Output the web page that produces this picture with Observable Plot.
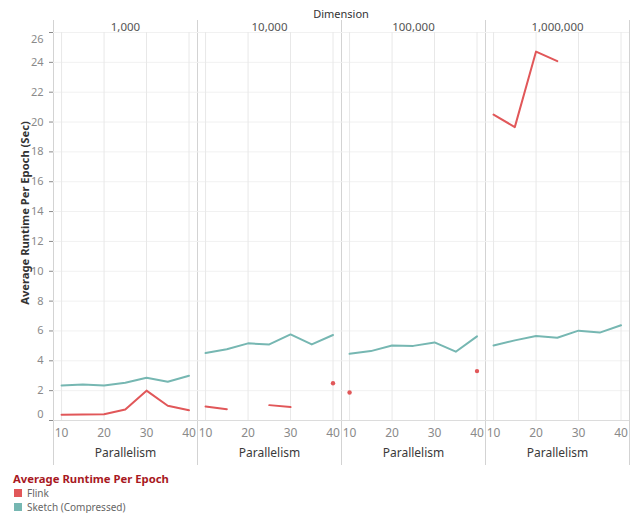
<!DOCTYPE html>
<html>
<head>
<meta charset="utf-8">
<script src="https://cdn.jsdelivr.net/npm/d3@7"></script>
<script src="https://cdn.jsdelivr.net/npm/@observablehq/plot@0.6"></script>
<style>
  body { margin: 0; background: #fff; font-family: "Noto Sans", sans-serif; }
  #wrap { position: relative; width: 635px; height: 513px; overflow: hidden; }
  #chart svg { display: block; }
  #legend { position: absolute; left: 13px; top: 471px; }
  .lg-title { font-weight: bold; font-size: 11.3px; color: #a8191f; line-height: 15px; }
  .lg-item { display: flex; align-items: center; font-size: 10px; color: #666; line-height: 14px; height: 14px; }
  .lg-sw { width: 8px; height: 8px; margin-left: 1px; margin-right: 5px; }
</style>
</head>
<body>
<div id="wrap">
  <div id="chart"></div>
  <div id="legend"></div>
</div>
<script>
// Facet columns (Dimension) and the shared x positions (Parallelism)
const dimensions = ["1,000", "10,000", "100,000", "1,000,000"];
const parallelism = [10, 15, 20, 25, 30, 35, 40];

const seriesNames = ["Flink", "Sketch (Compressed)"];
const seriesColors = ["#e15759", "#76b7b2"];

// Average runtime per epoch (sec); null = no measurement
const flink1k   = [0.38, 0.40, 0.42, 0.74, 2.00, 0.99, 0.69];
const flink10k  = [0.94, 0.76, null, 1.03, 0.90, null, 2.50];
const flink100k = [1.88, null, null, null, null, null, 3.31];
const flink1m   = [20.50, 19.66, 24.72, 24.08, null, null, null];

const sketch1k   = [2.35, 2.42, 2.35, 2.53, 2.87, 2.60, 3.00];
const sketch10k  = [4.52, 4.77, 5.17, 5.10, 5.77, 5.10, 5.73];
const sketch100k = [4.47, 4.65, 5.03, 5.00, 5.23, 4.61, 5.64];
const sketch1m   = [5.03, 5.37, 5.66, 5.55, 6.02, 5.89, 6.38];

const yTicks = d3.range(0, 27, 2);
const xTicks = [10, 20, 30, 40];

const flinkByDim = [flink1k, flink10k, flink100k, flink1m];
const sketchByDim = [sketch1k, sketch10k, sketch100k, sketch1m];

// Long-format table; points with no defined neighbours are drawn as dots
const rows = [];
dimensions.forEach((dimension, i) => {
  [[seriesNames[0], flinkByDim[i]], [seriesNames[1], sketchByDim[i]]].forEach(([series, values]) => {
    values.forEach((value, j) => {
      rows.push({
        dimension, series, value,
        parallelism: parallelism[j],
        isolated: value != null && values[j - 1] == null && values[j + 1] == null
      });
    });
  });
});

const tickGray = "#8a8a8a";

const chart = Plot.plot({
  width: 635,
  height: 470,
  marginLeft: 52,
  marginRight: 5,
  marginTop: 32,
  marginBottom: 50,
  style: { fontFamily: '"Noto Sans", sans-serif', fontSize: "11px", background: "transparent", overflow: "visible" },
  fx: { domain: dimensions, padding: 0, axis: null, label: null },
  x: { domain: [8.1, 42], axis: null },
  y: { domain: [0, 26], axis: null },
  color: { domain: seriesNames, range: seriesColors },
  marks: [
    Plot.gridY(yTicks, { stroke: "#f1f1f1", strokeOpacity: 1 }),
    Plot.gridX(xTicks, { stroke: "#e8e8e8", strokeOpacity: 1 }),
    Plot.ruleY([0], { stroke: "#dcdcdc" }),
    Plot.axisY(yTicks, {
      tickSize: 4, tickPadding: 6, color: tickGray, fontSize: 11,
      tickFormat: d => (d === 0 || d === 26) ? "" : d,
      label: null
    }),
    Plot.axisY([0], { tickSize: 0, tickPadding: 10, dy: -6.5, color: tickGray, fontSize: 11, label: null }),
    Plot.axisY([26], { tickSize: 0, tickPadding: 10, dy: 6.5, color: tickGray, fontSize: 11, label: null }),
    Plot.axisX(xTicks, { tickSize: 0, tickPadding: 8, color: tickGray, fontSize: 12, label: null }),
    Plot.text(dimensions, { fx: d => d, text: d => d, frameAnchor: "top", lineAnchor: "middle", dy: -5, fontSize: 11.5, fill: "#555" }),
    Plot.text(dimensions, { fx: d => d, text: () => "Parallelism", frameAnchor: "bottom", lineAnchor: "middle", dy: 33, fontSize: 12, fill: "#3a3a3a" }),
    Plot.line(rows, { fx: "dimension", x: "parallelism", y: "value", z: "series", stroke: "series", strokeWidth: 2 }),
    Plot.dot(rows.filter(d => d.isolated), { fx: "dimension", x: "parallelism", y: "value", fill: "series", r: 2.2 })
  ]
});

// Panel frame: header rule, column separators, "Dimension" header and y title
const svg = d3.select(chart);
const fx = chart.scale("fx");
const bw = fx.bandwidth;
const left = fx.apply(dimensions[0]);
const right = fx.apply(dimensions[dimensions.length - 1]) + bw;
const frame = svg.insert("g", "g").attr("stroke", "#d3d3d3").attr("fill", "none");
frame.append("line").attr("x1", left).attr("x2", right).attr("y1", 32.5).attr("y2", 32.5);
for (let i = 0; i <= dimensions.length; i++) {
  const x = Math.round(left + i * bw) + 0.5;
  frame.append("line").attr("x1", x).attr("x2", x).attr("y1", 20).attr("y2", 465);
}
svg.append("text")
  .attr("x", (left + right) / 2)
  .attr("y", 18)
  .attr("text-anchor", "middle")
  .attr("font-size", 11)
  .attr("fill", "#333")
  .text("Dimension");

svg.append("text")
  .attr("transform", "translate(29,213) rotate(-90)")
  .attr("text-anchor", "middle")
  .attr("font-size", 11.2)
  .attr("font-weight", "bold")
  .attr("fill", "#333")
  .text("Average Runtime Per Epoch (Sec)");

document.getElementById("chart").appendChild(chart);

// Colour legend
const legend = d3.select("#legend");
legend.append("div").attr("class", "lg-title").text("Average Runtime Per Epoch");
seriesNames.forEach((name, i) => {
  const item = legend.append("div").attr("class", "lg-item");
  item.append("div").attr("class", "lg-sw").style("background", seriesColors[i]);
  item.append("span").text(name);
});
</script>
</body>
</html>
